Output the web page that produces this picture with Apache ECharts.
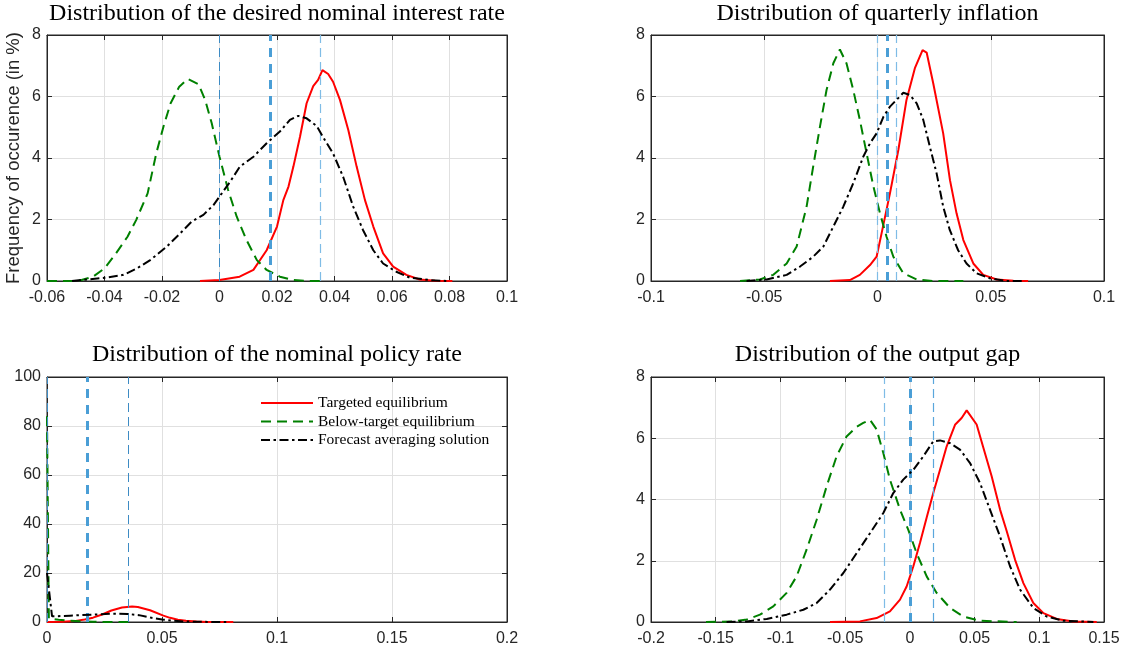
<!DOCTYPE html>
<html><head><meta charset="utf-8">
<script src="https://cdn.jsdelivr.net/npm/echarts@6/dist/echarts.min.js"></script>
<style>html,body{margin:0;padding:0;background:#fff}#c{width:1131px;height:654px}</style>
</head><body><div id="c"></div><script>
// ---------- DATA ----------
const seriesNames = ['Targeted equilibrium', 'Below-target equilibrium', 'Forecast averaging solution'];
const panelTitles = ['Distribution of the desired nominal interest rate', 'Distribution of quarterly inflation',
                     'Distribution of the nominal policy rate', 'Distribution of the output gap'];
const yAxisTitle = 'Frequency of occurence (in %)';

// axis ranges: [min, max, interval]
const desiredX = [-0.06, 0.1, 0.02];
const inflX = [-0.1, 0.1, 0.05];
const policyX = [0, 0.2, 0.05];
const gapX = [-0.2, 0.15, 0.05];
const desiredY = [0, 8, 2];
const inflY = [0, 8, 2];
const policyY = [0, 100, 20];
const gapY = [0, 8, 2];

// reference (dashed blue) lines
const desiredRefs = [0, 0.0175, 0.035];
const inflRefs = [0, 0.0042, 0.0083];
const policyRefs = [0, 0.0175, 0.0352];
const gapRefs = [-0.02, 0, 0.0181];

// Panel 1: desired nominal interest rate
const desiredTargeted = [[-0.0068,0],[0,0.03],[0.007,0.14],[0.0118,0.36],[0.0164,1.0],[0.02,1.77],[0.0222,2.63],[0.024,3.07],[0.0257,3.72],[0.028,4.69],[0.0303,5.78],[0.0326,6.34],[0.0343,6.54],[0.0358,6.86],[0.0378,6.73],[0.0395,6.48],[0.0419,5.89],[0.0448,4.91],[0.0477,3.72],[0.0506,2.63],[0.0535,1.77],[0.0569,0.9],[0.0604,0.47],[0.065,0.2],[0.0696,0.05],[0.075,0.01],[0.081,0]];
const desiredBelow = [[-0.06,0],[-0.05,0],[-0.048,0.03],[-0.044,0.14],[-0.04,0.41],[-0.036,0.9],[-0.032,1.44],[-0.029,1.98],[-0.025,2.85],[-0.022,4.15],[-0.0195,5.02],[-0.017,5.78],[-0.014,6.32],[-0.011,6.57],[-0.0073,6.4],[-0.005,5.89],[-0.0027,5.13],[0,4.04],[0.003,2.96],[0.006,2.09],[0.0094,1.33],[0.013,0.68],[0.0164,0.36],[0.021,0.14],[0.0257,0.03],[0.03,0],[0.035,0]];
const desiredAverage = [[-0.0513,0],[-0.0461,0.05],[-0.0392,0.11],[-0.0334,0.2],[-0.0287,0.41],[-0.0241,0.68],[-0.0183,1.12],[-0.0125,1.66],[-0.0097,1.93],[-0.0056,2.15],[-0.0021,2.47],[0.0008,2.85],[0.0037,3.23],[0.0071,3.72],[0.0118,4.04],[0.0164,4.48],[0.021,4.86],[0.0245,5.24],[0.0274,5.37],[0.0303,5.29],[0.0338,5.04],[0.0366,4.59],[0.0395,4.15],[0.043,3.39],[0.0465,2.42],[0.0499,1.66],[0.0535,1.0],[0.0569,0.57],[0.0615,0.3],[0.0662,0.11],[0.0731,0.03],[0.0789,0]];

// Panel 2: quarterly inflation
const inflTargeted = [[-0.021,0],[-0.0122,0.03],[-0.0078,0.2],[-0.0033,0.52],[-0.0004,0.79],[0.0018,1.55],[0.0055,2.85],[0.0092,4.26],[0.0128,5.89],[0.0165,6.92],[0.0199,7.51],[0.0217,7.43],[0.0246,6.43],[0.029,4.8],[0.032,3.28],[0.0349,2.2],[0.0379,1.33],[0.0423,0.57],[0.0467,0.2],[0.0526,0.05],[0.0600,0.01],[0.0665,0]];
const inflBelow = [[-0.0607,0],[-0.0519,0.05],[-0.046,0.2],[-0.0401,0.57],[-0.0357,1.12],[-0.0313,2.42],[-0.0284,3.72],[-0.0254,5.02],[-0.0225,6.21],[-0.0195,7.08],[-0.0166,7.53],[-0.0137,7.08],[-0.0107,6.21],[-0.0078,5.24],[-0.0048,4.15],[-0.0018,3.07],[0.0011,2.2],[0.004,1.44],[0.007,0.79],[0.0114,0.25],[0.0173,0.05],[0.0246,0],[0.0379,0]];
const inflAverage = [[-0.0578,0],[-0.0489,0.05],[-0.0401,0.2],[-0.0342,0.47],[-0.0284,0.79],[-0.0239,1.12],[-0.0195,1.77],[-0.0151,2.42],[-0.0107,3.18],[-0.0063,4.04],[-0.0033,4.48],[-0.0004,4.8],[0.0026,5.34],[0.0055,5.67],[0.0084,5.89],[0.0114,6.12],[0.0143,6.05],[0.0173,5.78],[0.0202,5.24],[0.0231,4.37],[0.0261,3.5],[0.029,2.42],[0.0319,1.66],[0.0356,1.0],[0.0393,0.57],[0.0437,0.25],[0.0496,0.09],[0.057,0],[0.065,0]];

// Panel 3: nominal policy rate
const policyTargeted = [[0,0],[0.007,0.14],[0.0118,0.36],[0.0164,1.0],[0.02,1.77],[0.024,3.07],[0.028,4.69],[0.0326,5.9],[0.037,6.3],[0.0395,6.1],[0.0448,4.8],[0.0506,2.6],[0.0535,1.7],[0.0569,0.9],[0.0604,0.47],[0.065,0.2],[0.0696,0.05],[0.081,0]];
const policyBelow = [[0,84],[0.0008,1.5],[0.005,0.9],[0.01,0.5],[0.015,0.3],[0.02,0.1],[0.025,0],[0.0377,0]];
const policyAverage = [[0,20],[0.0022,2.3],[0.01,2.6],[0.02,3.0],[0.028,3.4],[0.035,3.3],[0.04,2.8],[0.045,1.8],[0.05,1.0],[0.055,0.5],[0.06,0.2],[0.066,0.08],[0.073,0.02],[0.079,0]];

// Panel 4: output gap
const gapTargeted = [[-0.0617,0],[-0.0386,0.02],[-0.0257,0.13],[-0.0154,0.35],[-0.0076,0.73],[-0.0025,1.16],[0.0027,1.82],[0.0078,2.58],[0.013,3.41],[0.0181,4.21],[0.0233,4.97],[0.0284,5.73],[0.0349,6.44],[0.04,6.66],[0.0439,6.91],[0.0516,6.45],[0.0568,5.69],[0.0632,4.76],[0.0697,3.67],[0.0748,2.97],[0.0813,2.03],[0.0877,1.27],[0.0954,0.62],[0.1032,0.29],[0.1135,0.1],[0.1264,0.02],[0.1444,0]];
const gapBelow = [[-0.1575,0],[-0.136,0.02],[-0.126,0.08],[-0.1158,0.24],[-0.1055,0.51],[-0.0952,0.95],[-0.0875,1.49],[-0.0798,2.36],[-0.072,3.34],[-0.0643,4.43],[-0.0566,5.41],[-0.0489,6.06],[-0.0411,6.37],[-0.036,6.5],[-0.0308,6.6],[-0.0257,6.29],[-0.0205,5.52],[-0.0154,4.65],[-0.0076,3.67],[-0.0012,3.01],[0.0052,2.25],[0.013,1.49],[0.0207,0.95],[0.031,0.46],[0.0413,0.18],[0.0542,0.04],[0.0825,0]];
const gapAverage = [[-0.1416,0],[-0.126,0.02],[-0.1106,0.1],[-0.0952,0.24],[-0.0823,0.4],[-0.072,0.62],[-0.0617,1.06],[-0.0514,1.6],[-0.0411,2.25],[-0.0308,2.9],[-0.0205,3.56],[-0.0128,4.21],[-0.0051,4.65],[0.0027,4.97],[0.0104,5.41],[0.0181,5.9],[0.0233,5.93],[0.031,5.84],[0.0387,5.63],[0.0465,5.19],[0.0542,4.54],[0.0619,3.67],[0.0696,2.8],[0.0774,1.82],[0.0851,1.06],[0.0954,0.46],[0.1057,0.18],[0.1186,0.04],[0.1418,0]];

// ---------- CHART ----------
const AX = '#262626';
const SANS = 'Liberation Sans';
const SERIF = 'Liberation Serif';
const refStyles = {
  dark:  {color: '#3d8bc4', width: 1, type: [9, 5]},
  thick: {color: '#4a9ed6', width: 3, type: [9, 7]},
  light: {color: '#7fbce6', width: 1.2, type: [9, 5]},
  mid:   {color: '#5aa7dc', width: 1.2, type: [9, 5]}
};
const panels = [
  {grid: {left: 47, top: 35, width: 460, height: 246}, x: desiredX, y: desiredY, data: [desiredTargeted, desiredBelow, desiredAverage], refs: desiredRefs, refKinds: ['dark','thick','light'], titleTop: 2, yName: true},
  {grid: {left: 651, top: 35, width: 453, height: 246}, x: inflX, y: inflY, data: [inflTargeted, inflBelow, inflAverage], refs: inflRefs, refKinds: ['light','thick','light'], titleTop: 2},
  {grid: {left: 47, top: 377, width: 460, height: 245}, x: policyX, y: policyY, data: [policyTargeted, policyBelow, policyAverage], refs: policyRefs, refKinds: ['dark','thick','dark'], titleTop: 343},
  {grid: {left: 651, top: 377, width: 453, height: 245}, x: gapX, y: gapY, data: [gapTargeted, gapBelow, gapAverage], refs: gapRefs, refKinds: ['light','thick','mid'], titleTop: 343}
];
const lineStyles = [
  {color: '#ff0000', width: 2, type: 'solid'},
  {color: '#008000', width: 2, type: [10, 6]},
  {color: '#000000', width: 2, type: [9, 3.5, 2.5, 3.5]}
];
const fmt = v => String(+v.toFixed(4));

const option = {
  animation: false,
  backgroundColor: '#fff',
  title: [], grid: [], xAxis: [], yAxis: [], series: [],
  legend: {
    data: seriesNames, orient: 'vertical', left: 255, top: 390,
    itemWidth: 52, itemHeight: 12, itemGap: 2.5,
    itemStyle: {color: 'rgba(0,0,0,0)', borderColor: 'rgba(0,0,0,0)', borderWidth: 0, opacity: 0},
    textStyle: {fontFamily: SERIF, fontSize: 15.5, color: '#000'},
    selectedMode: false
  }
};
panels.forEach((p, i) => {
  option.title.push({text: panelTitles[i], left: p.grid.left + p.grid.width / 2, top: p.titleTop, textAlign: 'center', padding: 0,
    textStyle: {fontFamily: SERIF, fontSize: 24, fontWeight: 'normal', color: '#000'}});
  option.grid.push(Object.assign({show: true, borderColor: AX, borderWidth: 1, backgroundColor: '#fff', containLabel: false}, p.grid));
  const xBase = {type: 'value', gridIndex: i, min: p.x[0], max: p.x[1], interval: p.x[2]};
  const yBase = {type: 'value', gridIndex: i, min: p.y[0], max: p.y[1], interval: p.y[2]};
  option.xAxis.push(Object.assign({}, xBase, {position: 'bottom',
    axisLine: {show: true, onZero: false, lineStyle: {color: AX}},
    axisTick: {show: true, inside: true, length: 5, lineStyle: {color: AX}},
    axisLabel: {show: true, margin: 9, color: AX, fontFamily: SANS, fontSize: 16, formatter: fmt, showMinLabel: true, showMaxLabel: true},
    splitLine: {show: true, lineStyle: {color: '#e0e0e0', width: 1}}}));
  option.xAxis.push(Object.assign({}, xBase, {position: 'top',
    axisLine: {show: true, onZero: false, lineStyle: {color: AX}},
    axisTick: {show: true, inside: true, length: 5, lineStyle: {color: AX}},
    axisLabel: {show: false}, splitLine: {show: false}}));
  option.yAxis.push(Object.assign({}, yBase, {position: 'left',
    axisLine: {show: true, onZero: false, lineStyle: {color: AX}},
    axisTick: {show: true, inside: true, length: 5, lineStyle: {color: AX}},
    axisLabel: {show: true, margin: 6, color: AX, fontFamily: SANS, fontSize: 16},
    splitLine: {show: true, lineStyle: {color: '#e0e0e0', width: 1}},
    name: p.yName ? yAxisTitle : '', nameLocation: 'middle', nameGap: 24,
    nameTextStyle: {fontFamily: SANS, fontSize: 18.5, color: AX}}));
  option.yAxis.push(Object.assign({}, yBase, {position: 'right',
    axisLine: {show: true, onZero: false, lineStyle: {color: AX}},
    axisTick: {show: true, inside: true, length: 5, lineStyle: {color: AX}},
    axisLabel: {show: false}, splitLine: {show: false}}));
  p.data.forEach((d, k) => {
    const s = {name: seriesNames[k], type: 'line', xAxisIndex: 2 * i, yAxisIndex: 2 * i, data: d,
      showSymbol: false, symbol: 'none', smooth: false, clip: true, z: 3 + k,
      lineStyle: lineStyles[k], itemStyle: {color: lineStyles[k].color}};
    if (k === 0) {
      s.markLine = {silent: true, symbol: ['none', 'none'], label: {show: false}, animation: false, precision: 6,
        data: p.refs.map((x, j) => ({xAxis: x, lineStyle: refStyles[p.refKinds[j]]}))};
    }
    option.series.push(s);
  });
});
const chart = echarts.init(document.getElementById('c'), null, {renderer: 'canvas'});
chart.setOption(option);
</script></body></html>
